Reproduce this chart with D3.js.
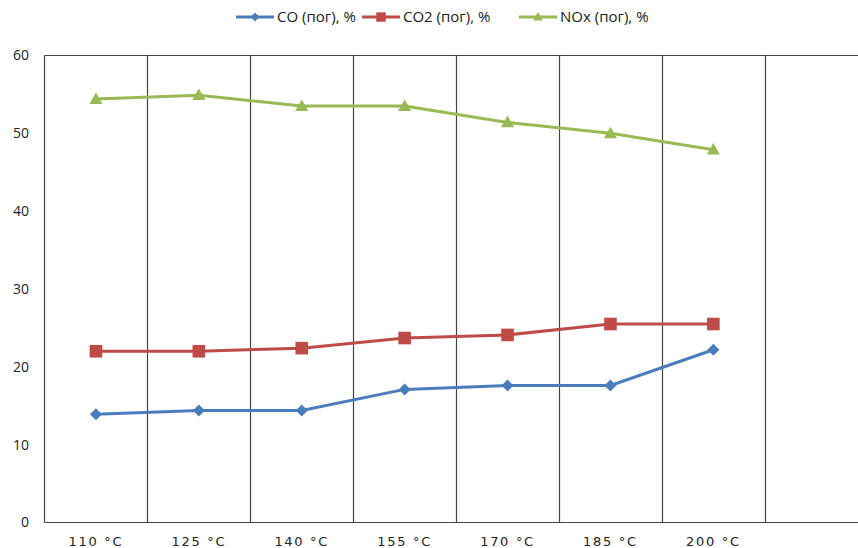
<!DOCTYPE html>
<html><head><meta charset="utf-8">
<script src="https://cdn.jsdelivr.net/npm/d3@7"></script>
<style>body{margin:0;background:#fff}svg{display:block}</style>
</head><body>
<script>
const categories = ["110 °C","125 °C","140 °C","155 °C","170 °C","185 °C","200 °C"];
const coValues  = [13.9, 14.4, 14.4, 17.1, 17.6, 17.6, 22.2];
const co2Values = [22.0, 22.0, 22.4, 23.7, 24.1, 25.5, 25.5];
const noxValues = [54.4, 54.9, 53.5, 53.5, 51.4, 50.0, 47.9];
const yTicks = [0, 10, 20, 30, 40, 50, 60];
const seriesNames = ["CO (пог), %", "CO2 (пог), %", "NOx (пог), %"];

(function(){
const series = [
  {name: seriesNames[0], values: coValues,  color: "#4A7EBB", marker: "diamond"},
  {name: seriesNames[1], values: co2Values, color: "#BE4B48", marker: "square"},
  {name: seriesNames[2], values: noxValues, color: "#98B954", marker: "triangle"}
];

const W = 858, H = 548;
const svg = d3.select("body").append("svg").attr("width", W).attr("height", H);

const mLeft = 44.5, mTop = 55.5, mBottom = 522.5;
const slots = categories.concat([""]); // empty trailing slot
const x = d3.scaleBand().domain(slots.map((d,i)=>i)).range([mLeft, mLeft + 102.9*slots.length]).paddingInner(0).paddingOuter(0);
const y = d3.scaleLinear().domain([0, 60]).range([mBottom, mTop]);
const mRight = mLeft + 102.9*slots.length;

const grid = svg.append("g").attr("stroke", "#444").attr("stroke-width", 1.2).attr("fill", "none");
grid.append("line").attr("x1", mLeft).attr("x2", mRight).attr("y1", mTop).attr("y2", mTop);
slots.forEach((d,i)=>{
  if (i === 0) return;
  const xx = Math.round(x(i)) + 0.5;
  grid.append("line").attr("x1", xx).attr("x2", xx).attr("y1", mTop).attr("y2", mBottom);
});
grid.append("line").attr("x1", mLeft).attr("x2", mLeft).attr("y1", mTop).attr("y2", mBottom);
grid.append("line").attr("x1", mLeft).attr("x2", mRight).attr("y1", mBottom).attr("y2", mBottom);

svg.append("g").selectAll("text").data(yTicks).join("text")
  .attr("x", 29).attr("y", d => y(d)).attr("dy", "0.35em")
  .attr("text-anchor", "end")
  .attr("font-family", "'Open Sans', sans-serif").attr("font-size", 14)
  .attr("fill", "#222")
  .text(d => d);

svg.append("g").selectAll("text").data(categories).join("text")
  .attr("x", (d,i) => x(i) + x.bandwidth()/2).attr("y", 541).attr("dy", "0.35em")
  .attr("text-anchor", "middle")
  .attr("font-family", "'DejaVu Sans', sans-serif").attr("font-size", 13)
  .attr("letter-spacing", "1.7px")
  .attr("fill", "#222")
  .text(d => d);

function markerPath(type, s) {
  if (type === "diamond") return `M0,${-s}L${s},0L0,${s}L${-s},0Z`;
  if (type === "square") return `M${-s},${-s}H${s}V${s}H${-s}Z`;
  return `M0,${-s*1.1}L${s*1.1},${s*0.8}L${-s*1.1},${s*0.8}Z`;
}
const msize = {diamond: 6, square: 6.3, triangle: 6};

const line = d3.line().x((d,i) => x(i) + x.bandwidth()/2).y(d => y(d));
series.forEach(s => {
  const g = svg.append("g");
  g.append("path").attr("d", line(s.values)).attr("fill", "none")
    .attr("stroke", s.color).attr("stroke-width", 3).attr("stroke-linejoin", "round");
  g.selectAll("path.m").data(s.values).join("path").attr("class", "m")
    .attr("transform", (d,i) => `translate(${x(i) + x.bandwidth()/2},${y(d)})`)
    .attr("d", markerPath(s.marker, msize[s.marker]))
    .attr("fill", s.color);
});

const legX = [236, 362, 519];
const legend = svg.append("g");
series.forEach((s, k) => {
  const g = legend.append("g").attr("transform", `translate(${legX[k]},17)`);
  g.append("line").attr("x1", 0).attr("x2", 38).attr("stroke", s.color).attr("stroke-width", 3);
  g.append("path").attr("transform", "translate(19,0)").attr("d", markerPath(s.marker, msize[s.marker]*0.75)).attr("fill", s.color);
  g.append("text").attr("x", 41).attr("dy", "0.35em")
    .attr("font-family", "'Open Sans', sans-serif").attr("font-size", 15).attr("fill", "#222")
    .text(s.name);
});
})();
</script>
</body></html>
